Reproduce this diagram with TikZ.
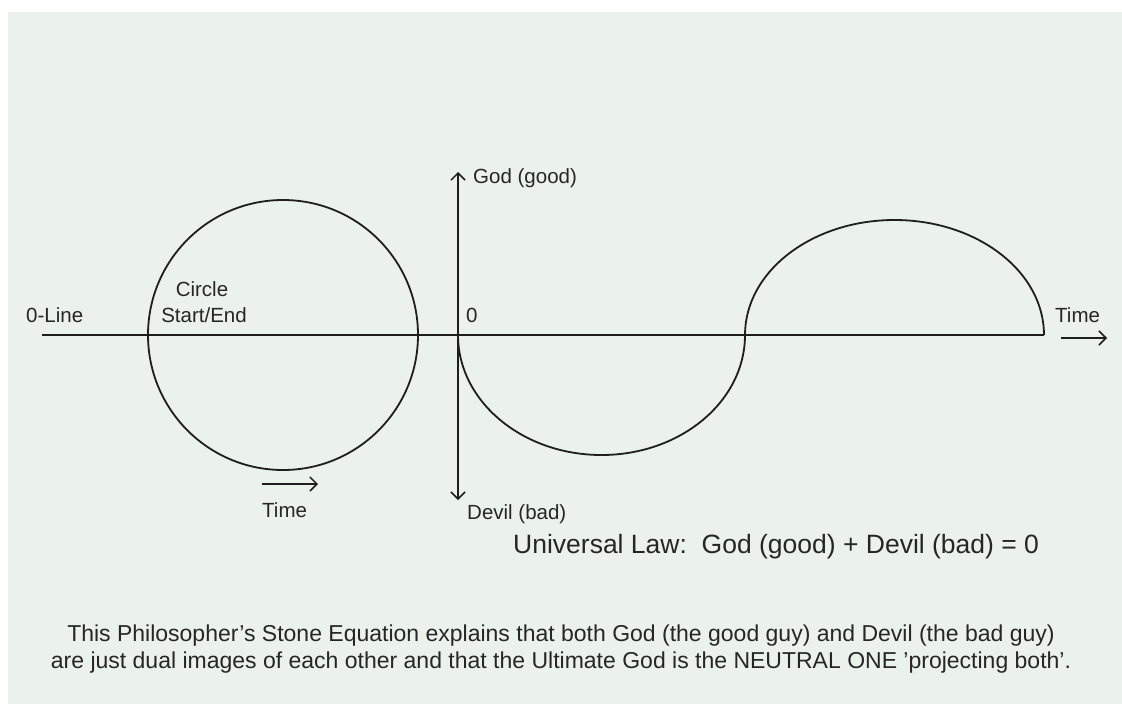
\documentclass[tikz,border=0pt]{standalone}
\usepackage{fontspec}
\setmainfont{Liberation Sans}
\usetikzlibrary{arrows.meta}
\definecolor{bg}{HTML}{EAF2EB}
\definecolor{ink}{HTML}{1E1E1E}
\definecolor{txt}{HTML}{262626}
\begin{document}
\begin{tikzpicture}[x=1pt,y=-1pt,
  line/.style={ink, line width=1.8pt},
  barb/.tip={Straight Barb[length=7pt,width=14pt,line width=1.5pt]},
  arr/.style={line, -barb},
  darr/.style={line, barb-barb},
  lbl/.style={txt, font=\fontsize{20.5}{24}\selectfont, inner sep=0pt},
  law/.style={txt, font=\fontsize{26.5}{30}\selectfont, inner sep=0pt},
  note/.style={txt, font=\fontsize{23}{27}\selectfont, inner sep=0pt}]
\useasboundingbox (0,0) rectangle (1122,704);
\fill[white] (0,0) rectangle (1122,704);
\fill[bg] (8,12) rectangle (1122,704);
% coordinates
\coordinate (L) at (42,335);
\coordinate (R) at (1044,335);
\coordinate (O) at (458,335);
\coordinate (top) at (458,172);
\coordinate (bot) at (458,500);
\coordinate (ta) at (1061,338);
\coordinate (tb) at (1107,338);
\coordinate (sa) at (262,484);
\coordinate (sb) at (318,484);
% zero line
\draw[line] (L) -- (R);
% circle
\node[draw=ink, line width=1.8pt, circle, minimum size=270pt, inner sep=0pt] (circ) at (283,335) {};
% vertical axis
\draw[darr] (bot) -- (top);
% wave
\draw[line] (O) arc[start angle=180, end angle=0, x radius=143.5, y radius=120]
                arc[start angle=180, end angle=360, x radius=149.5, y radius=115];
% time arrows
\draw[arr] (ta) -- (tb);
\draw[arr] (sa) -- (sb);
% labels
\node[lbl, anchor=base west] (zl) at (26,322) {0-Line};
\node[lbl, anchor=base] (c1) at (202,296) {Circle};
\node[lbl, anchor=base] (c2) at (204,322) {Start/End};
\node[lbl, anchor=base west] (zero) at (466,322) {0};
\node[lbl, anchor=base west] (god) at (473,183) {God (good)};
\node[lbl, anchor=base west] (devil) at (467,519) {Devil (bad)};
\node[lbl, anchor=base west] (time1) at (1055,322) {Time};
\node[lbl, anchor=base west] (time2) at (262,517) {Time};
\node[law, anchor=base west] (law) at (513,553) {Universal Law:\ \ God (good) + Devil (bad) = 0};
\node[note, anchor=base] (n1) at (561,641) {This Philosopher's Stone Equation explains that both God (the good guy) and Devil (the bad guy)};
\node[note, anchor=base] (n2) at (561,668) {are just dual images of each other and that the Ultimate God is the NEUTRAL ONE 'projecting both'.};
\end{tikzpicture}
\end{document}
